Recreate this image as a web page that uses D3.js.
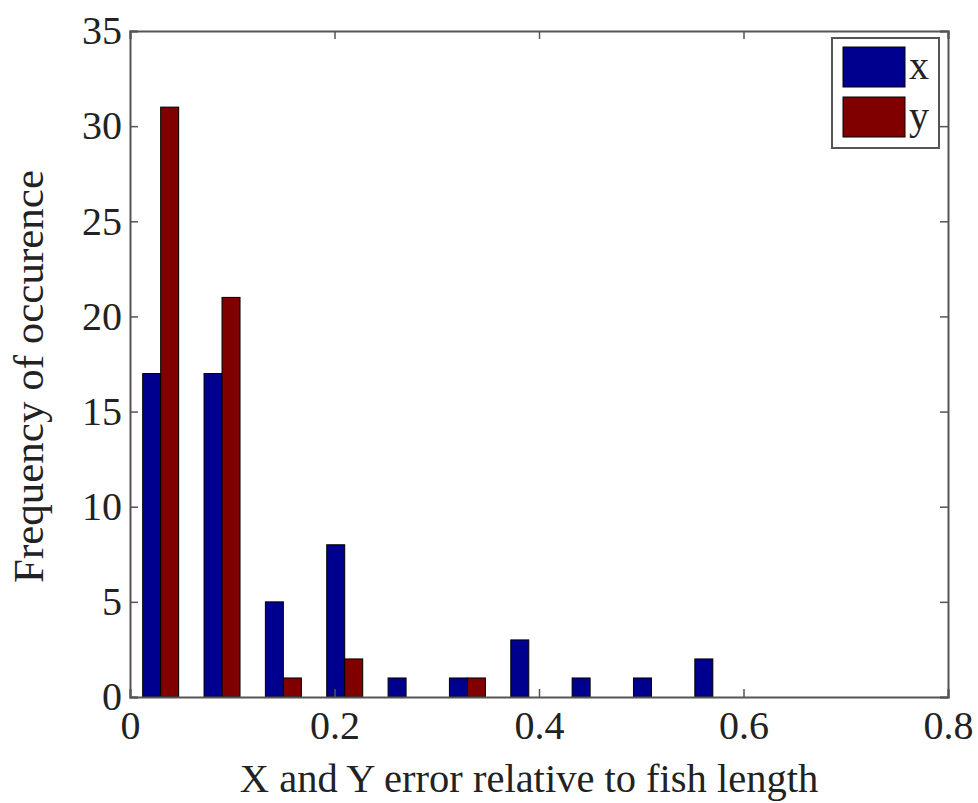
<!DOCTYPE html>
<html><head><meta charset="utf-8">
<script src="https://cdn.jsdelivr.net/npm/d3@7"></script>
<style>body{margin:0;background:#fff}svg{display:block}</style>
</head><body>
<script>
const binCenters = [0.03, 0.09, 0.15, 0.21, 0.27, 0.33, 0.39, 0.45, 0.51, 0.57];
const xValues = [17, 17, 5, 8, 1, 1, 3, 1, 1, 2];
const yValues = [31, 21, 1, 2, 0, 1, 0, 0, 0, 0];
const seriesNames = ["x", "y"];
const xTicks = [0, 0.2, 0.4, 0.6, 0.8];
const yTicks = [0, 5, 10, 15, 20, 25, 30, 35];

const W = 978, H = 803;
const L = 130, R = 948, T = 31, B = 697;
const colors = ["#00008f", "#800000"];
const font = "'Liberation Serif','Times New Roman',serif";

const svg = d3.select("body").append("svg").attr("width", W).attr("height", H);
const x = d3.scaleLinear().domain([0, 0.8]).range([L, R]);
const y = d3.scaleLinear().domain([0, 35]).range([B, T]);
const bw = 0.0176; // bar width in data units

const series = [xValues, yValues];
series.forEach((vals, si) => {
  svg.append("g").selectAll("rect").data(binCenters.map((c, i) => ({c, v: vals[i]})).filter(d => d.v > 0))
    .join("rect")
    .attr("x", d => x(si === 0 ? d.c - bw : d.c))
    .attr("width", d => x(bw) - x(0))
    .attr("y", d => y(d.v))
    .attr("height", d => y(0) - y(d.v))
    .attr("fill", colors[si])
    .attr("stroke", "#000").attr("stroke-width", 1);
});

const axisColor = "#555";
const tl = 8;
const gxb = svg.append("g").attr("transform", `translate(0,${B})`)
  .call(d3.axisBottom(x).tickValues(xTicks).tickSize(-tl).tickPadding(14).tickFormat(d => d === 0 ? "0" : d3.format(".1f")(d)));
const gxt = svg.append("g").attr("transform", `translate(0,${T})`)
  .call(d3.axisTop(x).tickValues(xTicks).tickSize(-tl).tickFormat(""));
const gyl = svg.append("g").attr("transform", `translate(${L},0)`)
  .call(d3.axisLeft(y).tickValues(yTicks).tickSize(-tl).tickPadding(8));
const gyr = svg.append("g").attr("transform", `translate(${R},0)`)
  .call(d3.axisRight(y).tickValues(yTicks).tickSize(-tl).tickFormat(""));
[gxb, gxt, gyl, gyr].forEach(g => {
  g.select(".domain").attr("stroke", axisColor).attr("stroke-width", 2);
  g.selectAll(".tick line").attr("stroke", axisColor).attr("stroke-width", 1.5);
  g.selectAll(".tick text").attr("fill", "#222").style("font-family", font).style("font-size", "40px");
});
gxb.selectAll(".tick text").attr("dy", "0.71em");

svg.append("text").attr("x", (L + R) / 2 - 10).attr("y", 792).attr("text-anchor", "middle")
  .style("font-family", font).style("font-size", "40.5px").attr("fill", "#222")
  .text("X and Y error relative to fish length");
svg.append("text").attr("transform", `translate(43,${(170 + 583) / 2}) rotate(-90)`).attr("text-anchor", "middle")
  .style("font-family", font).style("font-size", "43px").attr("fill", "#222")
  .text("Frequency of occurence");

const lg = svg.append("g");
lg.append("rect").attr("x", 832).attr("y", 38).attr("width", 107).attr("height", 110)
  .attr("fill", "#fff").attr("stroke", axisColor).attr("stroke-width", 2);
seriesNames.forEach((n, i) => {
  lg.append("rect").attr("x", 843).attr("y", 47 + i * 50).attr("width", 62).attr("height", 40)
    .attr("fill", colors[i]).attr("stroke", "#000").attr("stroke-width", 1);
  lg.append("text").attr("x", 909).attr("y", 79 + i * 50)
    .style("font-family", font).style("font-size", "40px").attr("fill", "#222").text(n);
});
</script>
</body></html>
